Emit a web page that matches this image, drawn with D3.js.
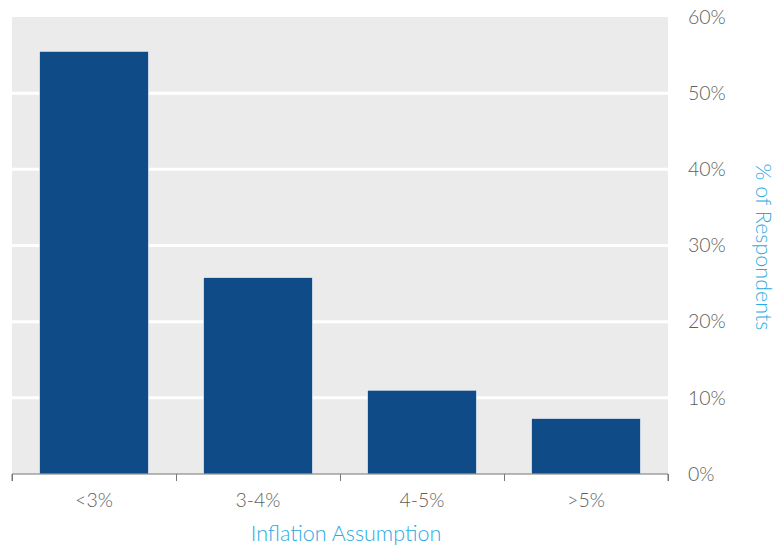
<!DOCTYPE html>
<html><head><meta charset="utf-8">
<script src="https://cdn.jsdelivr.net/npm/d3@7"></script>
<style>
body{margin:0;background:#fff;}
svg{display:block;font-family:Lato,"Open Sans",sans-serif;}
</style></head>
<body><svg id="c" width="781" height="546"></svg>
<script>
const categories = ["<3%", "3-4%", "4-5%", ">5%"];
const values = [55.5, 25.8, 11.0, 7.3];
const yTicks = [0, 10, 20, 30, 40, 50, 60];
const xTitle = "Inflation Assumption";
const yTitle = "% of Respondents";

const svg = d3.select("#c");
const L = 12, R = 668, T = 17, B = 474;
const x = d3.scaleBand().domain(categories).range([L, R]).paddingInner(0.335).paddingOuter(0.1675);
const y = d3.scaleLinear().domain([0, 60]).range([B, T]);

svg.append("rect").attr("x", L).attr("y", T).attr("width", R - L).attr("height", B - T).attr("fill", "#ebebeb");

svg.append("g").selectAll("line").data(yTicks.filter(d => d > 0 && d < 60)).join("line")
  .attr("x1", L).attr("x2", R).attr("y1", d => y(d)).attr("y2", d => y(d))
  .attr("stroke", "#fff").attr("stroke-width", 3);

svg.append("g").selectAll("rect").data(values).join("rect")
  .attr("x", (d, i) => x(categories[i])).attr("width", x.bandwidth())
  .attr("y", d => y(d)).attr("height", d => B - y(d))
  .attr("fill", "#0f4c87").attr("stroke", "#fff").attr("stroke-width", 0.6);

const xb = d3.scalePoint().domain(d3.range(categories.length + 1)).range([L, R]);
const gx = svg.append("g").attr("transform", `translate(0,${B})`)
  .call(d3.axisBottom(xb).tickSize(7).tickFormat(""));
gx.select(".domain").attr("stroke", "#777").attr("d", `M${L},7V0H${R}V7`);
gx.selectAll(".tick line").attr("stroke", "#777");

svg.append("g").selectAll("text").data(categories).join("text")
  .attr("x", d => x(d) + x.bandwidth() / 2).attr("y", 507)
  .attr("text-anchor", "middle").attr("fill", "#5e5e5e").attr("font-size", 19.5).attr("font-weight", 300)
  .text(d => d);

const gy = svg.append("g").attr("transform", `translate(${R},0)`)
  .call(d3.axisRight(y).tickValues(yTicks).tickSize(0).tickPadding(20).tickFormat(d => d + "%"));
gy.select(".domain").remove();
gy.selectAll("text").attr("fill", "#5e5e5e").attr("font-size", 19.5).attr("font-weight", 300)
  .attr("font-family", "Lato,'Open Sans',sans-serif");

svg.append("text").attr("x", (L + R) / 2 + 6).attr("y", 541).attr("text-anchor", "middle")
  .attr("fill", "#29abe2").attr("font-size", 21.5).attr("font-weight", 300).text(xTitle);

svg.append("text").attr("transform", `translate(756,247) rotate(90)`).attr("text-anchor", "middle")
  .attr("fill", "#29abe2").attr("font-size", 21.5).attr("font-weight", 300).text(yTitle);
</script></body></html>
